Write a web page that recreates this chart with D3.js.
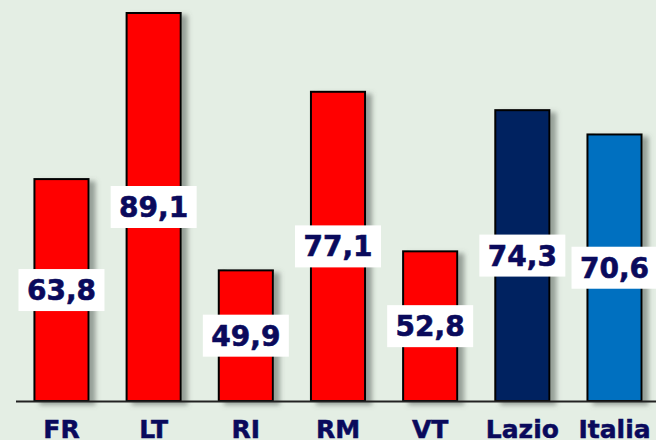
<!DOCTYPE html>
<html>
<head>
<meta charset="utf-8">
<script src="https://cdnjs.cloudflare.com/ajax/libs/d3/7.8.5/d3.min.js"></script>
<style>
  html, body { margin: 0; padding: 0; background: #e4eee4; }
  svg { display: block; }
</style>
</head>
<body>
<div id="chart"></div>
<script>
// data
var categories = ["FR", "LT", "RI", "RM", "VT", "Lazio", "Italia"];
var values = [63.8, 89.1, 49.9, 77.1, 52.8, 74.3, 70.6];
var colors = ["#ff0000", "#ff0000", "#ff0000", "#ff0000", "#ff0000", "#002060", "#0070c0"];

var width = 656,
    height = 440;

var svg = d3.select("#chart").append("svg")
    .attr("width", width)
    .attr("height", height);

svg.append("rect")
    .attr("width", width)
    .attr("height", height)
    .attr("fill", "#e4eee4");

var defs = svg.append("defs");
var shadow = defs.append("filter")
    .attr("id", "shadow")
    .attr("x", "-10%").attr("y", "-10%")
    .attr("width", "140%").attr("height", "120%");
shadow.append("feDropShadow")
    .attr("dx", 6)
    .attr("dy", 3)
    .attr("stdDeviation", 2.5)
    .attr("flood-color", "#55605a")
    .attr("flood-opacity", 0.55);

var x = d3.scaleBand()
    .domain(categories)
    .range([16, 660])
    .paddingInner(0.413)
    .paddingOuter(0.2);

// value axis does not start at zero in the original
var y = d3.scaleLinear()
    .domain([30, 89.1])
    .range([401, 13]);

var bars = svg.append("g")
    .selectAll("rect")
    .data(values)
  .enter().append("rect")
    .attr("x", function(d, i) { return x(categories[i]); })
    .attr("y", function(d) { return y(d); })
    .attr("width", x.bandwidth())
    .attr("height", function(d) { return y.range()[0] - y(d); })
    .attr("fill", function(d, i) { return colors[i]; })
    .attr("stroke", "#000")
    .attr("stroke-width", 2)
    .attr("filter", "url(#shadow)");

// axis line
svg.append("line")
    .attr("x1", 16)
    .attr("x2", width)
    .attr("y1", 401.5)
    .attr("y2", 401.5)
    .attr("stroke", "#222")
    .attr("stroke-width", 2);

// value labels in white boxes, at mid height of the bar
var labels = svg.append("g")
    .selectAll("g")
    .data(values)
  .enter().append("g")
    .attr("transform", function(d, i) {
      return "translate(" + (x(categories[i]) + x.bandwidth() / 2) + "," + ((y(d) + y.range()[0]) / 2) + ")";
    });

labels.append("rect")
    .attr("x", -43)
    .attr("y", -21)
    .attr("width", 86)
    .attr("height", 42)
    .attr("fill", "#fff");

labels.append("text")
    .attr("text-anchor", "middle")
    .attr("dy", "0.36em")
    .style("font-family", "'DejaVu Sans', Verdana, sans-serif")
    .style("font-weight", "bold")
    .style("font-size", "28px")
    .attr("fill", "#0a0a5c")
    .attr("stroke", "#0a0a5c")
    .attr("stroke-width", 0.6)
    .text(function(d) { return d3.format(".1f")(d).replace(".", ","); });

// category labels
svg.append("g")
    .selectAll("text")
    .data(categories)
  .enter().append("text")
    .attr("x", function(d) { return x(d) + x.bandwidth() / 2; })
    .attr("y", 438)
    .attr("text-anchor", "middle")
    .style("font-family", "'DejaVu Sans', Verdana, sans-serif")
    .style("font-weight", "bold")
    .style("font-size", "25px")
    .attr("fill", "#0a0a5c")
    .attr("stroke", "#0a0a5c")
    .attr("stroke-width", 0.5)
    .text(function(d) { return d; });
</script>
</body>
</html>
